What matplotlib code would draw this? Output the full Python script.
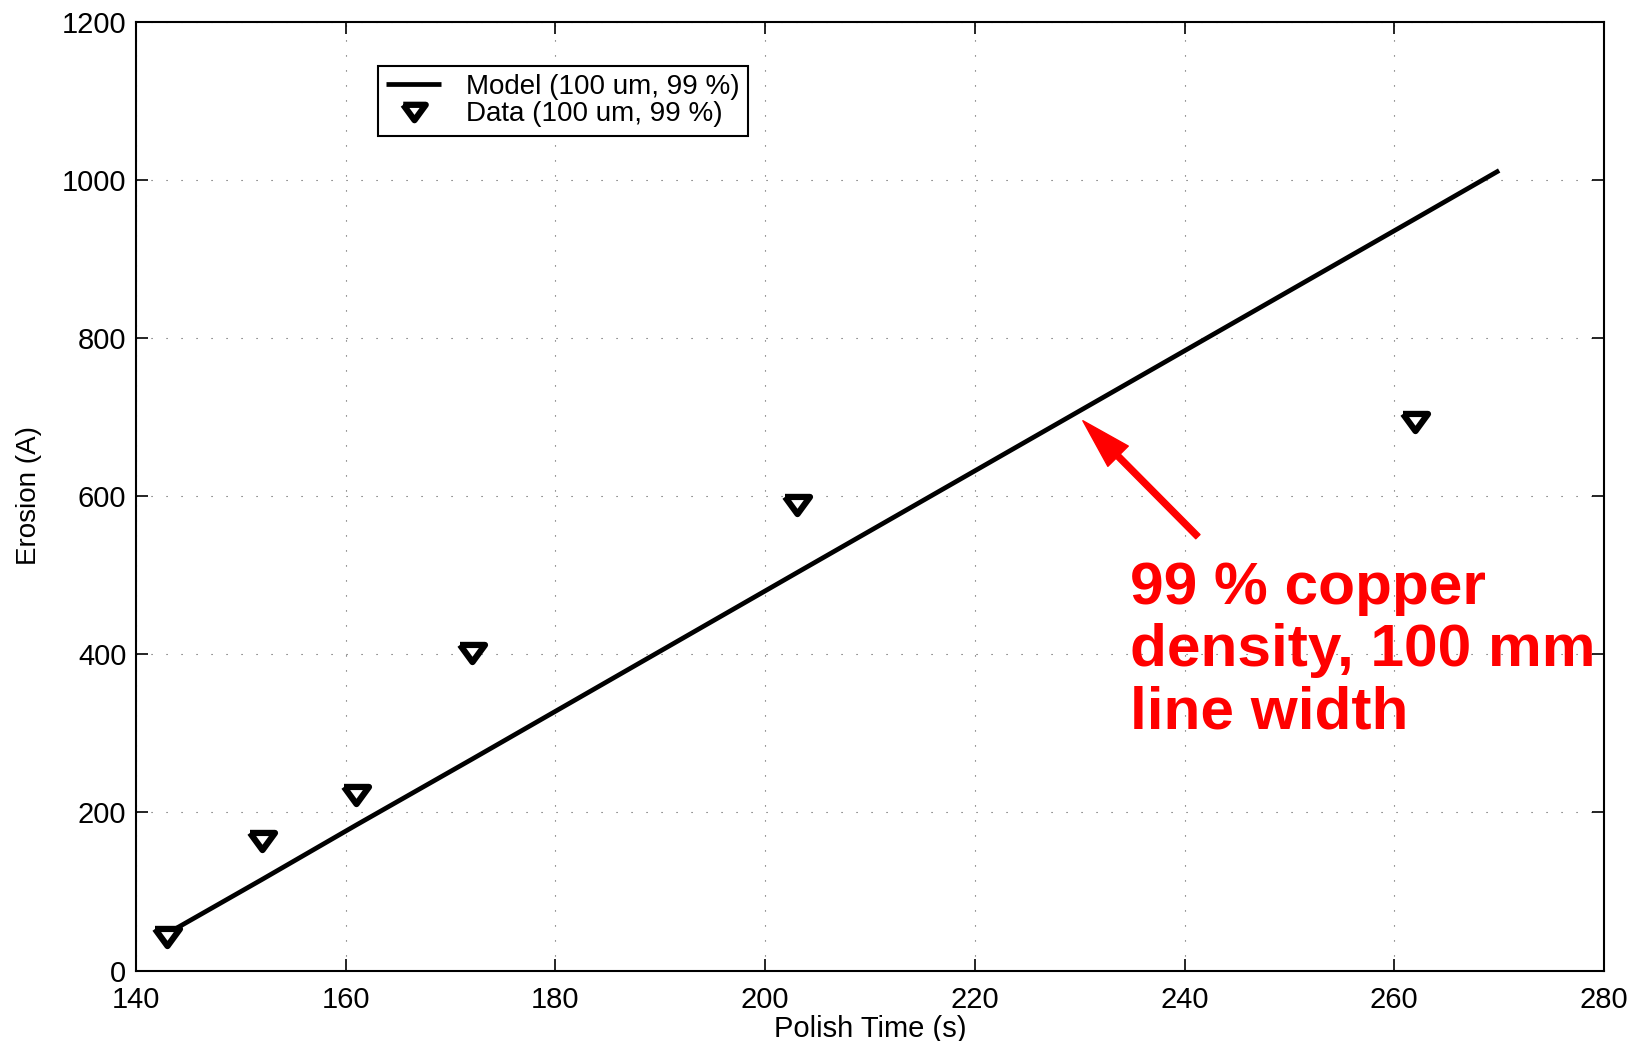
import matplotlib
matplotlib.use("Agg")
import matplotlib.pyplot as plt
from matplotlib.markers import MarkerStyle

plt.rcParams['font.family'] = ['Liberation Sans', 'DejaVu Sans']

# model prediction (100 um lines, 99 % density)
model_time = [143, 152, 161, 172, 203, 262, 270]
model_erosion = [47, 115, 184, 267, 503, 951, 1012]

# measured erosion
data_time = [143, 152, 161, 172, 203, 262]
data_erosion = [42, 164, 222, 402, 589, 694]

x_ticks = [140, 160, 180, 200, 220, 240, 260, 280]
y_ticks = [0, 200, 400, 600, 800, 1000, 1200]

note = "99 % copper\ndensity, 100 mm\nline width"

# flattened downward triangle, like the old matlab marker
tri = MarkerStyle([(-1, 0.684), (1, 0.684), (0, -0.684), (-1, 0.684)],
                  joinstyle='miter')

fig = plt.figure(figsize=(16.35, 10.41), dpi=100)
W, H = 1635, 1041
ax = fig.add_axes([136 / W, 1 - 970.5 / H, (1604 - 136) / W, (970.5 - 21.9) / H])

ax.plot(model_time, model_erosion, color='black', lw=3.4,
        solid_capstyle='butt', label='Model (100 um, 99 %)', zorder=3)
ax.plot(data_time, data_erosion, linestyle='none', marker=tri, ms=18,
        mec='black', mfc='white', mew=4.5, label='Data (100 um, 99 %)', zorder=4)

ax.set_xlim(140, 280)
ax.set_ylim(0, 1200)
ax.set_xticks(x_ticks)
ax.set_yticks(y_ticks)

ax.grid(True, color='#555555', linestyle=(0, (1, 12.5)), linewidth=0.8)
for s in ax.spines.values():
    s.set_linewidth(1.5)
ax.tick_params(direction='in', length=8.6, width=1.2, top=True, right=True,
               labelsize=21, colors='black')
ax.tick_params(axis='x', pad=11)
ax.tick_params(axis='y', pad=7)

ax.set_xlabel('Polish Time (s)', fontsize=21)
ax.set_ylabel('Erosion (A)', fontsize=20)
ax.xaxis.set_label_coords(0.5, -0.047)
ax.yaxis.set_label_coords(-0.064, 0.501)

leg = ax.legend(loc='upper left', bbox_to_anchor=(377.5 / W, 1 - 65.7 / H),
                bbox_transform=fig.transFigure, borderaxespad=0,
                fontsize=20, fancybox=False, framealpha=1, edgecolor='black',
                borderpad=0.3, labelspacing=0.05, handlelength=2.0,
                handletextpad=0.9, markerscale=0.9)
leg.get_frame().set_linewidth(1.5)

ax.annotate('', xy=(230.3, 695.5), xytext=(241.27, 548.8),
            arrowprops=dict(facecolor='red', edgecolor='red', width=4.3,
                            headwidth=20.7, headlength=36, shrink=0))
ax.text(234.76, 518, note, color='red', fontsize=43.5, fontweight='bold',
        ha='left', va='top', linespacing=1.17)

fig.savefig('out.png', dpi=100)
